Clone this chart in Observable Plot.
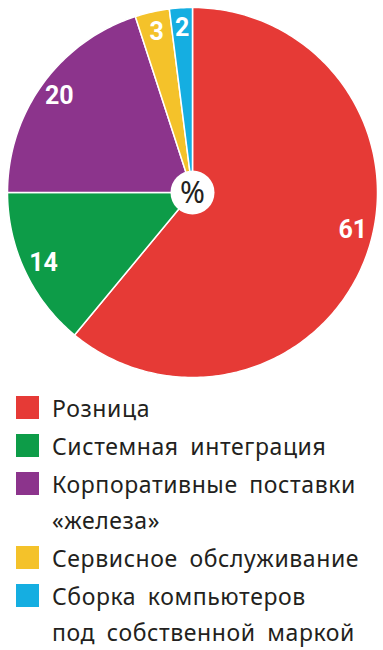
<!DOCTYPE html>
<html><head><meta charset="utf-8">
<script src="https://cdn.jsdelivr.net/npm/d3@7"></script>
<script src="https://cdn.jsdelivr.net/npm/@observablehq/plot@0.6"></script>
<style>
body{margin:0;background:#fff;width:383px;overflow:hidden}
#legend{margin:0;padding:0;font-family:"Noto Sans",sans-serif;font-size:23px;color:#231f20;letter-spacing:0.6px;word-spacing:5px;white-space:nowrap}
.item{display:flex;align-items:flex-start;margin-bottom:2px}
.sw{width:23px;height:23px;margin:6px 13px 0 16px;flex:none}
.lab{line-height:36px}
</style></head><body>
<div id="chart"></div>
<div id="legend"></div>
<script>
const categories = ["Розница","Системная интеграция","Корпоративные поставки «железа»","Сервисное обслуживание","Сборка компьютеров под собственной маркой"];
const legendLines = [["Розница"],["Системная интеграция"],["Корпоративные поставки","«железа»"],["Сервисное обслуживание"],["Сборка компьютеров","под собственной маркой"]];
const values = [61,14,20,3,2];
const colors = ["#e63a36","#0d9c48","#8c348c","#f4c22a","#15aee1"];

const pie = d3.pie().sort(null).value(d => d.value)(categories.map((c,i)=>({cat:c,value:values[i]})));
const polys = [];
const labels = [];
pie.forEach(p => {
  const n = Math.max(2, Math.ceil((p.endAngle-p.startAngle)*60));
  polys.push({cat:p.data.cat,x:0,y:0});
  for(let k=0;k<=n;k++){
    const a = p.startAngle + (p.endAngle-p.startAngle)*k/n;
    polys.push({cat:p.data.cat,x:Math.sin(a),y:Math.cos(a)});
  }
  polys.push({cat:p.data.cat,x:0,y:0});
  // large slices: label placed a bit earlier along the arc
  const f = (p.endAngle-p.startAngle) > Math.PI ? 0.47 : 0.5;
  const m = p.startAngle+(p.endAngle-p.startAngle)*f, lr = 0.89;
  labels.push({x:lr*Math.sin(m), y:lr*Math.cos(m), t:String(p.data.value)});
});

const color = {domain:categories, range:colors};
const chart = Plot.plot({
  width:383, height:385, margin:0,
  x:{domain:[-1,1], range:[7,377], axis:null},
  y:{domain:[-1,1], range:[377,7], axis:null},
  color,
  marks:[
    ...categories.map((c,i)=>Plot.line(polys.filter(d=>d.cat===c),{x:"x",y:"y",fill:colors[i],stroke:"white",strokeWidth:1.5,strokeLinejoin:"round"})),
    Plot.dot([{x:0,y:0}],{x:"x",y:"y",r:22,fill:"white",stroke:"none"}),
    Plot.text(["%"],{x:()=>0,y:()=>0,text:d=>d,fontSize:30,fill:"#231f20",fontFamily:"Noto Sans, sans-serif",dy:1}),
    Plot.text(labels,{x:"x",y:"y",text:"t",fill:"white",fontSize:25,fontWeight:"bold",fontFamily:"Liberation Sans Narrow, Roboto, sans-serif"})
  ]
});
document.getElementById("chart").appendChild(chart);

const lg = document.getElementById("legend");
lg.style.marginTop = "5px";
legendLines.forEach((lines,i)=>{
  const it=document.createElement("div"); it.className="item";
  const sw=document.createElement("div"); sw.className="sw"; sw.style.background=colors[i];
  const lab=document.createElement("div"); lab.className="lab"; lab.innerHTML=lines.join("<br>");
  it.appendChild(sw); it.appendChild(lab); lg.appendChild(it);
});
</script>
</body></html>
